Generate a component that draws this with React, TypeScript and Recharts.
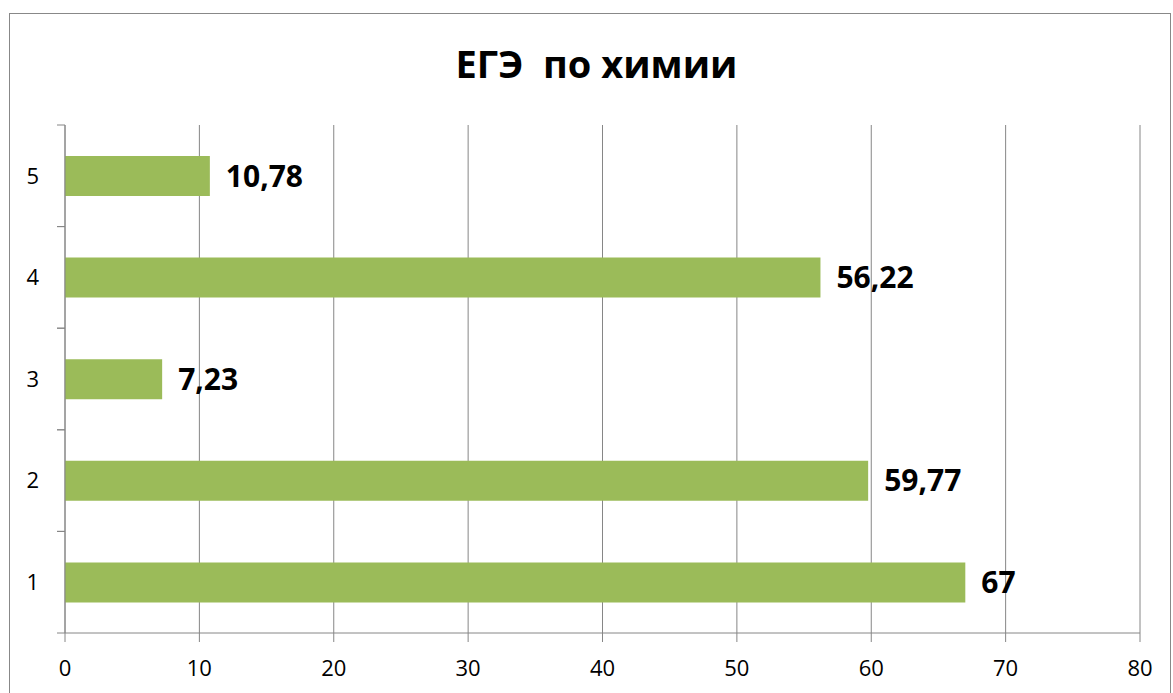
import { Bar, BarChart, CartesianGrid, LabelList, XAxis, YAxis } from "recharts"

const categories = ["1", "2", "3", "4", "5"]
const values = [67, 59.77, 7.23, 56.22, 10.78]
const xTicks = [0, 10, 20, 30, 40, 50, 60, 70, 80]

const data = categories.map((cat, i) => ({ cat, value: values[i] }))

const FONT = "'Open Sans', sans-serif"
const GRID = "#868686"

const formatValue = (v: any) => String(v).replace(".", ",")

// category label plus Excel-style tick marks between categories
const CategoryTick = ({ x, y, payload }: any) => {
  const half = payload.offset || 0
  return (
    <g>
      <line x1={x + 17} x2={x + 25} y1={y - half} y2={y - half} stroke={GRID} />
      <line x1={x + 17} x2={x + 25} y1={y + half} y2={y + half} stroke={GRID} />
      <text x={x - 1} y={y} dy="0.35em" textAnchor="end" fill="#000" fontSize={22} fontFamily={FONT}>
        {payload.value}
      </text>
    </g>
  )
}

const ValueTick = ({ x, y, payload }: any) => (
  <text x={x} y={y} dy="0.71em" textAnchor="middle" fill="#000" fontSize={22} fontFamily={FONT}>
    {payload.value}
  </text>
)

const App = () => {
  return (
    <div style={{ position: "fixed", left: 0, top: 0, width: 1173, height: 693, background: "#fff", overflow: "hidden", fontFamily: FONT }}>
      <div
        style={{
          position: "absolute",
          left: 9,
          top: 13,
          width: 1160,
          height: 700,
          border: "1px solid #888",
        }}
      />
      <div
        style={{
          position: "absolute",
          left: 0,
          width: 1193,
          top: 37,
          textAlign: "center",
          fontSize: 38,
          fontWeight: 700,
          whiteSpace: "pre",
          color: "#000",
        }}
      >
        ЕГЭ  по химии
      </div>
      <div style={{ position: "absolute", left: 0, top: 0 }}>
        <BarChart
          width={1173}
          height={693}
          data={data}
          layout="vertical"
          margin={{ top: 125, right: 33, bottom: 0, left: 0 }}
        >
          <CartesianGrid horizontal={false} stroke={GRID} strokeWidth={1} />
          <YAxis
            type="category"
            dataKey="cat"
            reversed
            width={65}
            axisLine={{ stroke: GRID }}
            tickLine={false}
            tickSize={8}
            tickMargin={17}
            tick={<CategoryTick />}
          />
          <XAxis
            type="number"
            domain={[0, 80]}
            ticks={xTicks}
            height={60}
            axisLine={{ stroke: GRID }}
            tickLine={{ stroke: GRID }}
            tickSize={9}
            tickMargin={18}
            tick={<ValueTick />}
          />
          <Bar dataKey="value" fill="#9BBB59" barSize={40} isAnimationActive={false}>
            <LabelList
              dataKey="value"
              position="right"
              offset={16}
              formatter={formatValue}
              style={{ fill: "#000", fontSize: 30, fontWeight: 700, fontFamily: FONT }}
            />
          </Bar>
        </BarChart>
      </div>
    </div>
  )
}

export default App
